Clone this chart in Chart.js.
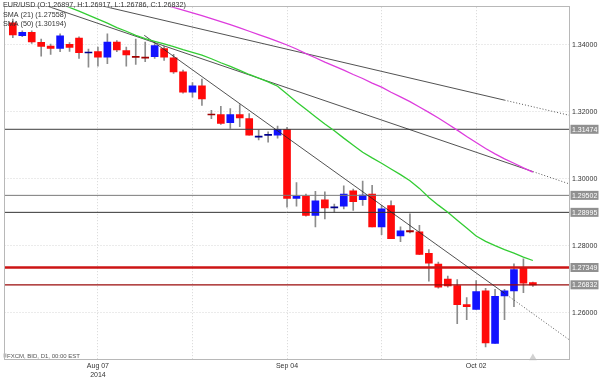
<!DOCTYPE html>
<html><head><meta charset="utf-8">
<script src="https://cdn.jsdelivr.net/npm/chart.js@4.4.1/dist/chart.umd.min.js"></script>
<style>html,body{margin:0;padding:0;background:#fff;}</style>
</head><body>
<canvas id="c" width="600" height="378"></canvas>
<script>
// ---- data (EUR/USD daily, FXCM) ----
const dates = ['Jul 25','Jul 28','Jul 29','Jul 30','Jul 31','Aug 01','Aug 04','Aug 05','Aug 06','Aug 07',
'Aug 08','Aug 11','Aug 12','Aug 13','Aug 14','Aug 15','Aug 18','Aug 19','Aug 20','Aug 21',
'Aug 22','Aug 25','Aug 26','Aug 27','Aug 28','Aug 29','Sep 01','Sep 02','Sep 03','Sep 04',
'Sep 05','Sep 08','Sep 09','Sep 10','Sep 11','Sep 12','Sep 15','Sep 16','Sep 17','Sep 18',
'Sep 19','Sep 22','Sep 23','Sep 24','Sep 25','Sep 26','Sep 29','Sep 30','Oct 01','Oct 02',
'Oct 03','Oct 06','Oct 07','Oct 08','Oct 09','Oct 10'];
const opens = [1.3465,1.3427,1.3437,1.3407,1.3396,1.3389,1.3401,1.3420,1.3375,1.3379,
1.3363,1.3408,1.3382,1.3365,1.3363,1.3364,1.3388,1.3361,1.3319,1.3258,
1.3277,1.3193,1.3191,1.3167,1.3191,1.3179,1.3124,1.3129,1.3130,1.3147,
1.2941,1.2947,1.2890,1.2937,1.2913,1.2918,1.2964,1.2937,1.2954,1.2856,
1.2920,1.2829,1.2845,1.2841,1.2777,1.2745,1.2700,1.2681,1.2624,1.2610,
1.2665,1.2508,1.2650,1.2665,1.2733,1.26897];
const highs = [1.3476,1.3441,1.3441,1.3417,1.3402,1.3432,1.3406,1.3423,1.3387,1.3393,
1.3432,1.3412,1.3393,1.3417,1.3408,1.3403,1.3394,1.3371,1.3324,1.3287,
1.3297,1.3204,1.3216,1.3209,1.3221,1.3194,1.3145,1.3140,1.3157,1.3153,
1.2988,1.2954,1.2962,1.2961,1.2924,1.2979,1.2969,1.2993,1.2980,1.2920,
1.2934,1.2856,1.2895,1.2861,1.2788,1.2751,1.2709,1.2699,1.2645,1.2696,
1.2673,1.2670,1.2670,1.2746,1.2761,1.26917];
const lows = [1.3421,1.3424,1.3404,1.3366,1.3371,1.3379,1.3380,1.3359,1.3333,1.3336,
1.3343,1.3379,1.3336,1.3341,1.3349,1.3359,1.3353,1.3314,1.3255,1.3243,
1.3219,1.3179,1.3162,1.3150,1.3155,1.3130,1.3116,1.3109,1.3121,1.2915,
1.2918,1.2888,1.2856,1.2880,1.2900,1.2910,1.2905,1.2920,1.2856,1.2833,
1.2821,1.2812,1.2838,1.2773,1.2694,1.2673,1.2676,1.2567,1.2579,1.2610,
1.2498,1.2508,1.2579,1.2618,1.2660,1.26786];
const closes = [1.3429,1.3437,1.3408,1.3395,1.3389,1.3426,1.3392,1.3376,1.3378,1.3363,
1.3408,1.3384,1.3369,1.3362,1.3360,1.3397,1.3363,1.3319,1.3258,1.3277,
1.3238,1.3190,1.3165,1.3191,1.3181,1.3130,1.3126,1.3131,1.3147,1.2941,
1.2947,1.2890,1.2934,1.2913,1.2916,1.2954,1.2931,1.2951,1.2856,1.2910,
1.2821,1.2844,1.2841,1.2774,1.2748,1.2676,1.2680,1.2624,1.2618,1.2663,
1.2510,1.2649,1.2665,1.2729,1.2688,1.26832];
const sma21 = [null,null,null,null,null,
1.3524,1.3511,1.3500,1.3488,1.3476,1.3464,1.3451,1.3440,1.3428,1.3418,
1.3410,1.3402,1.3394,1.3385,1.3377,1.3369,1.3358,1.3346,1.3335,1.3323,
1.3311,1.3300,1.3289,1.3276,1.3253,1.3229,1.3207,1.3185,1.3163,1.3143,
1.3121,1.3100,1.3079,1.3062,1.3046,1.3029,1.3012,1.2994,1.2971,1.2944,
1.2921,1.2900,1.2876,1.2853,1.2829,1.2813,1.2800,1.2788,1.2778,1.2766,1.27558];
const sma50 = [null,null,null,null,null,null,null,null,null,null,null,null,null,null,null,
1.3525,1.3518,1.3511,1.3503,1.3495,1.3487,1.3478,1.3469,1.3460,1.3450,
1.3440,1.3430,1.3420,1.3410,1.3399,1.3387,1.3373,1.3361,1.3348,1.3336,
1.3324,1.3311,1.3299,1.3285,1.3273,1.3258,1.3244,1.3230,1.3214,1.3198,
1.3181,1.3163,1.3145,1.3126,1.3108,1.3090,1.3074,1.3059,1.3046,1.3032,1.30194];
// trend lines: [barIndex, price] endpoints
const trendUpper = [[8.3,1.35232],[52,1.32344]];
const trendUpperExt = [[52,1.32344],[58.82,1.31894]];
const trendMid = [[3.0,1.35213],[55,1.30212]];
const trendMidExt = [[55,1.30212],[58.82,1.29847]];
const trendSteep = [[13.9,1.34279],[52,1.26580]];
const trendSteepExt = [[52,1.26580],[58.82,1.25197]];
// horizontal levels
const levelValues = [1.31474,1.29502,1.28995,1.27349,1.26832];
const levelColors = ['#3c3c3c','#7a7a7a','#333333','#cc1414','#9a0a0a'];
const levelWidths = [1,1,1,2.6,1.2];
// axes
const xRange = [-0.88, 58.82];
const yRange = [1.24588, 1.35118];
const yTicks = [1.26,1.28,1.30,1.32,1.34];
const xTickIdx = [9,19,29,39,49];
const xTickLabels = [['Aug 07','2014'],'','Sep 04','','Oct 02'];
const markerIdx = 55, markerPrice = 1.2465;
const symbol = 'EUR/USD', footer = 'FXCM, BID, D1, 00:00 EST';

// ---- build ----
const FONT = '"Liberation Sans", Arial, sans-serif';
const idx = closes.map((_, i) => i);
const bodyColors = idx.map(i => {
  const up = closes[i] >= opens[i];
  const tiny = Math.abs(closes[i] - opens[i]) < 0.00045;
  if (up) return tiny ? '#00008c' : '#1212ff';
  return tiny ? '#a00000' : '#ff0a0a';
});
const pts = arr => arr.map(p => ({x: p[0], y: p[1]}));
const seriesPts = arr => arr.map((v, i) => ({x: i, y: v}));

const datasets = [];
datasets.push({type:'bar', data: idx.map(i => ({x:i, y:[lows[i], highs[i]]})),
  backgroundColor:'#8c8c8c', barThickness:1, grouped:false, order:10});
datasets.push({type:'bar', data: idx.map(i => ({x:i, y:[opens[i], closes[i]]})),
  backgroundColor: bodyColors, barThickness:7, grouped:false, minBarLength:1, order:9});
levelValues.forEach((v, k) => datasets.push({type:'line',
  data:[{x:xRange[0], y:v},{x:xRange[1], y:v}], borderColor:levelColors[k],
  borderWidth:levelWidths[k], pointRadius:0, order:5}));
[trendUpper, trendMid, trendSteep].forEach(t => datasets.push({type:'line', data:pts(t),
  borderColor:'#262626', borderWidth:0.8, pointRadius:0, order:4}));
[trendUpperExt, trendMidExt, trendSteepExt].forEach(t => datasets.push({type:'line', data:pts(t),
  borderColor:'#444', borderWidth:0.9, borderDash:[1,2], pointRadius:0, order:4}));
datasets.push({type:'line', data:seriesPts(sma21), borderColor:'#33cc33', borderWidth:1.3,
  pointRadius:0, spanGaps:false, order:2});
datasets.push({type:'line', data:seriesPts(sma50), borderColor:'#dd3cdd', borderWidth:1.3,
  pointRadius:0, spanGaps:false, order:2});
datasets.push({type:'line', data:[{x:markerIdx, y:markerPrice}], showLine:false,
  pointStyle:'triangle', pointRadius:4.5, pointBackgroundColor:'#d2d2d2', pointBorderWidth:0,
  clip:false, order:1});

const fmt = v => v.toFixed(5);
const last = closes.length - 1;
const headerLines = [
  `${symbol} (O:${fmt(opens[last])}, H:${fmt(highs[last])}, L:${fmt(lows[last])}, C:${fmt(closes[last])})`,
  `SMA (21) (${fmt(sma21[last])})`,
  `SMA (50) (${fmt(sma50[last])})`
];

const decor = {
  id:'decor',
  beforeDraw(chart){
    const c = chart.ctx; c.save(); c.fillStyle='#fff'; c.fillRect(0,0,chart.width,chart.height); c.restore();
  },
  afterDraw(chart){
    const c = chart.ctx, a = chart.chartArea, y = chart.scales.y;
    c.save();
    c.strokeStyle = '#b8b8b8'; c.lineWidth = 1;
    c.strokeRect(Math.round(a.left)-0.5, Math.round(a.top)-0.5, Math.round(a.right-a.left), Math.round(a.bottom-a.top));
    c.font = '7px ' + FONT; c.textBaseline = 'middle'; c.textAlign = 'left';
    levelValues.forEach(v => {
      const py = y.getPixelForValue(v);
      c.fillStyle = '#909090'; c.fillRect(a.right + 1.5, py - 4.5, 28, 9);
      c.fillStyle = '#ffffff'; c.fillText(fmt(v), a.right + 3, py + 0.5);
    });
    c.fillStyle = '#333'; c.font = '7.2px ' + FONT;
    headerLines.forEach((t, k) => c.fillText(t, 3, 5.5 + k * 9.4));
    c.fillStyle = '#bbb'; c.fillRect(3.5, 353.5, 3, 4);
    c.fillStyle = '#555'; c.font = '6px ' + FONT;
    c.fillText(footer, 7, 356);
    c.restore();
  }
};

new Chart(document.getElementById('c'), {
  type:'bar',
  data:{datasets},
  options:{
    responsive:false, animation:false, devicePixelRatio:1,
    layout:{padding:{left:3, top:2, right:0, bottom:0}},
    plugins:{legend:{display:false}, tooltip:{enabled:false}},
    scales:{
      x:{type:'linear', min:xRange[0], max:xRange[1], offset:false,
        afterBuildTicks: s => { s.ticks = xTickIdx.map(v => ({value:v})); },
        afterFit: s => { s.height = 18; },
        grid:{color:'#d6d6d6', drawTicks:false, offset:false},
        border:{display:false, dash:[1,2]},
        ticks:{autoSkip:false, maxRotation:0, padding:2, color:'#333', font:{size:7, family:FONT},
          callback: v => { const k = xTickIdx.indexOf(v); return k >= 0 ? xTickLabels[k] : ''; }}
      },
      y:{type:'linear', position:'right', min:yRange[0], max:yRange[1],
        afterBuildTicks: s => { s.ticks = yTicks.map(v => ({value:v})); },
        afterFit: s => { s.width = 31; },
        grid:{color:'#d6d6d6', drawTicks:false},
        border:{display:false, dash:[1,2]},
        ticks:{padding:3, color:'#333', font:{size:7, family:FONT}, callback: v => fmt(v)}
      }
    }
  },
  plugins:[decor]
});
</script>
</body></html>
